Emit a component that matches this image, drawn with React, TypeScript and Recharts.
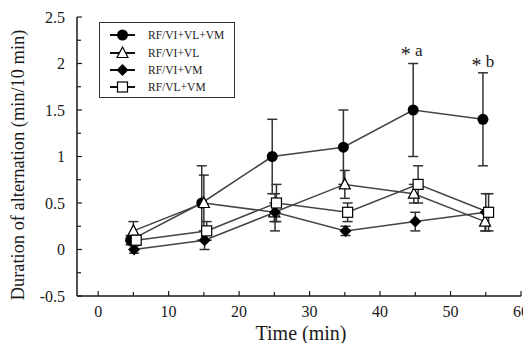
import React from "react";
import { ComposedChart, Line, XAxis, YAxis, ErrorBar, ReferenceDot, Label } from "recharts";

// groups compared in the figure
const seriesNames = ["RF/VI+VL+VM", "RF/VI+VL", "RF/VI+VM", "RF/VL+VM"];

// time points as plotted (each group is nudged a little sideways in the figure)
const timesAll = [4.6, 14.7, 24.7, 34.8, 44.7, 54.6];
const timesViVl = [5, 15, 25, 35, 44.8, 54.9];
const timesViVm = [5.1, 15.1, 25.1, 35.1, 45, 55];
const timesVlVm = [5.4, 15.4, 25.3, 35.4, 45.4, 55.4];

// mean duration of alternation (min/10 min) and its error
const allMuscles = [0.1, 0.5, 1.0, 1.1, 1.5, 1.4];
const allMusclesErr = [0.05, 0.4, 0.4, 0.4, 0.5, 0.5];
const viVl = [0.2, 0.5, 0.4, 0.7, 0.6, 0.3];
const viVlErr = [0.1, 0.3, 0.1, 0.15, 0.1, 0.1];
const viVm = [0, 0.1, 0.4, 0.2, 0.3, 0.4];
const viVmErr = [0.04, 0.1, 0.2, 0.05, 0.1, 0.2];
const vlVm = [0.1, 0.2, 0.5, 0.4, 0.7, 0.4];
const vlVmErr = [0.05, 0.1, 0.2, 0.1, 0.2, 0.2];

// axis ticks
const xTicks = [0, 5, 10, 15, 20, 25, 30, 35, 40, 45, 50, 55, 60];
const xTickLabels = ["0", "10", "20", "30", "40", "50", "60"];
const yTicks = [-0.5, -0.25, 0, 0.25, 0.5, 0.75, 1, 1.25, 1.5, 1.75, 2, 2.25, 2.5];
const yTickLabels = ["-0.5", "0", "0.5", "1", "1.5", "2", "2.5"];

// significance marks
const marksText = ["a", "b"];
const marksX = [44.5, 54.6];
const marksY = [2.08, 1.96];

const FONT = '"Liberation Serif", "Times New Roman", serif';
const INK = "#1a1a1a";
const LINE = "#444";

type Shape = "circle" | "triangle" | "diamond" | "square";
const shapes: Shape[] = ["circle", "triangle", "diamond", "square"];

const rows = (times: number[], vals: number[], errs: number[]) =>
  times.map((t, i) => ({ t, v: vals[i], err: errs[i] }));

const seriesData = [
  rows(timesAll, allMuscles, allMusclesErr),
  rows(timesViVl, viVl, viVlErr),
  rows(timesViVm, viVm, viVmErr),
  rows(timesVlVm, vlVm, vlVmErr),
];

function marker(shape: Shape, cx: number, cy: number, key?: string) {
  if (shape === "circle") return <circle key={key} cx={cx} cy={cy} r={5.5} fill="#000" />;
  if (shape === "triangle")
    return (
      <polygon
        key={key}
        points={`${cx},${cy - 6} ${cx - 5.5},${cy + 4.5} ${cx + 5.5},${cy + 4.5}`}
        fill="#fff"
        stroke="#000"
        strokeWidth={1.2}
      />
    );
  if (shape === "diamond")
    return (
      <polygon
        key={key}
        points={`${cx},${cy - 6} ${cx + 6},${cy} ${cx},${cy + 6} ${cx - 6},${cy}`}
        fill="#000"
      />
    );
  return <rect key={key} x={cx - 5} y={cy - 5} width={10} height={10} fill="#fff" stroke="#000" strokeWidth={1.2} />;
}

const makeDot = (shape: Shape) => (p: any) => marker(shape, p.cx, p.cy, `${shape}-${p.index}`);

const YTick = (p: any) => {
  const { x, y, payload } = p;
  const label = String(payload.value);
  const major = yTickLabels.includes(label);
  return (
    <g>
      <line x1={x} x2={x + (major ? 5 : 4)} y1={y} y2={y} stroke={INK} strokeWidth={1.2} />
      {major && (
        <text x={x - 12} y={y + 5.5} textAnchor="end" fontFamily={FONT} fontSize={16} fill={INK}>
          {label}
        </text>
      )}
    </g>
  );
};

const XTick = (p: any) => {
  const { x, y, payload } = p;
  const label = String(payload.value);
  const major = xTickLabels.includes(label);
  return (
    <g>
      <line x1={x} x2={x} y1={y} y2={y - (major ? 5 : 4)} stroke={INK} strokeWidth={1.2} />
      {major && (
        <text x={x} y={y + 21} textAnchor="middle" fontFamily={FONT} fontSize={16} fill={INK}>
          {label}
        </text>
      )}
    </g>
  );
};

const markLabel = (text: string) => (p: any) => {
  const vb = p.viewBox || {};
  const cx = (vb.x ?? 0) + (vb.width ?? 0) / 2;
  const cy = (vb.y ?? 0) + (vb.height ?? 0) / 2;
  return (
    <text x={cx} y={cy} textAnchor="middle" fontFamily={FONT} fontSize={17} fill={INK}>
      <tspan fontSize={20} dy={5}>*</tspan>
      <tspan dy={-5}>{" " + text}</tspan>
    </text>
  );
};

function LegendBox() {
  const rowY = [13, 31, 48, 65];
  return (
    <svg width={136} height={76} style={{ position: "absolute", left: 99, top: 22 }}>
      <rect x={0.5} y={0.5} width={135} height={75} fill="#fff" stroke="#333" strokeWidth={1} />
      {seriesNames.map((name, i) => (
        <g key={name}>
          <line x1={11} x2={36} y1={rowY[i]} y2={rowY[i]} stroke="#111" strokeWidth={2} />
          {marker(shapes[i], 23.5, rowY[i])}
          <text x={49} y={rowY[i] + 4} fontFamily={FONT} fontSize={11.5} fill={INK}>
            {name}
          </text>
        </g>
      ))}
    </svg>
  );
}

export default function App() {
  return (
    <div style={{ position: "relative", width: 531, height: 343, marginLeft: -8, marginTop: -8 }}>
      <ComposedChart width={531} height={343} margin={{ top: 17, right: 10, bottom: 0, left: 0 }}>
        <XAxis
          dataKey="t"
          type="number"
          domain={[-3, 60]}
          ticks={xTicks}
          interval={0}
          tickSize={0}
          tickMargin={0}
          tickLine={false}
          tick={<XTick />}
          height={47}
          axisLine={{ stroke: INK, strokeWidth: 1.5 }}
          allowDuplicatedCategory={false}
        >
          <Label
            content={() => (
              <text x={301} y={340} textAnchor="middle" fontFamily={FONT} fontSize={20} fill={INK}>
                Time (min)
              </text>
            )}
          />
        </XAxis>
        <YAxis
          type="number"
          domain={[-0.5, 2.5]}
          ticks={yTicks}
          interval={0}
          tickSize={0}
          tickMargin={0}
          tickLine={false}
          tick={<YTick />}
          width={77}
          axisLine={{ stroke: INK, strokeWidth: 1.5 }}
        >
          <Label
            content={() => (
              <text
                x={18}
                y={165}
                transform="rotate(-90, 18, 165)"
                textAnchor="middle"
                dominantBaseline="central"
                fontFamily={FONT}
                fontSize={18.4}
                fill={INK}
              >
                Duration of alternation (min/10 min)
              </text>
            )}
          />
        </YAxis>
        {seriesData.map((data, i) => (
          <Line
            key={seriesNames[i]}
            name={seriesNames[i]}
            data={data}
            dataKey="v"
            type="linear"
            stroke={LINE}
            strokeWidth={1.5}
            dot={makeDot(shapes[i])}
            activeDot={false}
            isAnimationActive={false}
          >
            <ErrorBar dataKey="err" direction="y" width={5} stroke="#333" strokeWidth={1.5} />
          </Line>
        ))}
        {marksText.map((m, i) => (
          <ReferenceDot
            key={m}
            x={marksX[i]}
            y={marksY[i]}
            r={0}
            fill="none"
            stroke="none"
            ifOverflow="visible"
            label={<Label content={markLabel(m)} />}
          />
        ))}
      </ComposedChart>
      <LegendBox />
    </div>
  );
}
